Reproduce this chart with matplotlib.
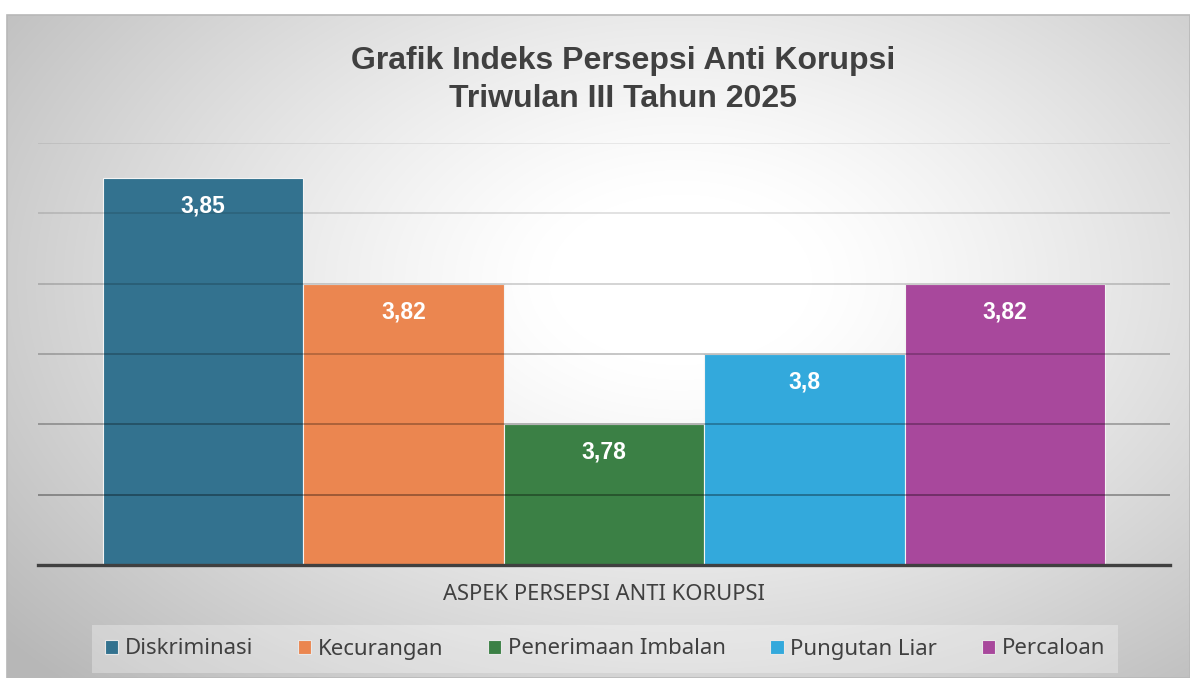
import numpy as np
import matplotlib.pyplot as plt
from matplotlib.patches import Patch, Rectangle

# data
aspek = ['Diskriminasi', 'Kecurangan', 'Penerimaan Imbalan', 'Pungutan Liar', 'Percaloan']
nilai = [3.85, 3.82, 3.78, 3.80, 3.82]
label_nilai = ['3,85', '3,82', '3,78', '3,8', '3,82']
warna = ['#33728f', '#eb8650', '#3b8045', '#33a9dc', '#a8489c']
grid_y = [3.76, 3.78, 3.80, 3.82, 3.84, 3.86]

W, H = 1190, 678
fig = plt.figure(figsize=(W / 100, H / 100), dpi=100)
fig.patch.set_facecolor('white')

# background panel with radial gradient
px0, py0 = 7, 15
bg = fig.add_axes([px0 / W, 0, 1 - px0 / W, 1 - py0 / H], zorder=0)
bw, bh = W - px0, H - py0
xx, yy = np.meshgrid(np.linspace(0, 1, bw), np.linspace(0, 1, bh))
r = np.sqrt(((xx - 0.57) / 0.62) ** 2 + ((yy - 0.4) / 0.72) ** 2)
g = 1.0 - 0.25 * np.clip((r - 0.18) / 0.92, 0, 1.1) ** 1.2
img = np.dstack([g, g, g])
bg.imshow(img, aspect='auto', extent=[0, 1, 0, 1], origin='upper')
bg.set_xlim(0, 1)
bg.set_ylim(0, 1)
bg.axis('off')
bg.add_patch(Rectangle((0, 0), 1, 1, fill=False, edgecolor='#b8b8b8', lw=1.2,
                       transform=bg.transAxes, clip_on=False))

# main axes
ax = fig.add_axes([38 / W, (H - 565) / H, (1170 - 38) / W, (565 - 143) / H], zorder=1)
ax.patch.set_alpha(0)
x = np.arange(len(aspek))
bars = ax.bar(x, nilai, width=1.0, bottom=0, color=warna, edgecolor='#f4f4f4',
              linewidth=0.8, zorder=2)
ax.set_xlim(-0.824, 4.824)
ax.set_ylim(3.74, 3.86)

alphas = [0.42, 0.35, 0.28, 0.21, 0.15, 0.09]
for gy, a in zip(grid_y, alphas):
    ax.axhline(gy, color='black', alpha=a, lw=1.1, zorder=3)
ax.axhline(3.74, color='#404040', lw=2.4, zorder=4, clip_on=False)

for xi, v, lab in zip(x, nilai, label_nilai):
    ax.annotate(lab, (xi, v), xytext=(0, -28), textcoords='offset pixels',
                ha='center', va='center', color='white', fontsize=16.5,
                fontweight='bold', family='Liberation Sans', zorder=5)

for s in ax.spines.values():
    s.set_visible(False)
ax.set_xticks([])
ax.set_yticks([])

fig.text(623 / W, 1 - 61 / H, 'Grafik Indeks Persepsi Anti Korupsi', ha='center', va='center',
         fontsize=23, fontweight='bold', color='#404040', family='Liberation Sans')
fig.text(623 / W, 1 - 99 / H, 'Triwulan III Tahun 2025', ha='center', va='center',
         fontsize=23, fontweight='bold', color='#404040', family='Liberation Sans')

fig.text(604 / W, 1 - 594 / H, 'ASPEK PERSEPSI ANTI KORUPSI', ha='center', va='center',
         fontsize=15.8, color='#404040', family='Noto Sans')

handles = [Patch(facecolor=c, edgecolor='#e8e8e8', lw=0.8, label=l) for c, l in zip(warna, aspek)]
leg = fig.legend(handles=handles, loc='center', bbox_to_anchor=(605 / W, 1 - 649 / H),
                 ncol=5, frameon=True, fancybox=False,
                 prop={'family': 'Noto Sans', 'size': 16},
                 handlelength=0.6, handleheight=0.6, handletextpad=0.3,
                 columnspacing=2.0, borderpad=0.6, borderaxespad=0)
leg.get_frame().set_facecolor('white')
leg.get_frame().set_alpha(0.3)
leg.get_frame().set_edgecolor('none')
for t in leg.get_texts():
    t.set_color('#404040')

fig.savefig('out.png', dpi=100)
